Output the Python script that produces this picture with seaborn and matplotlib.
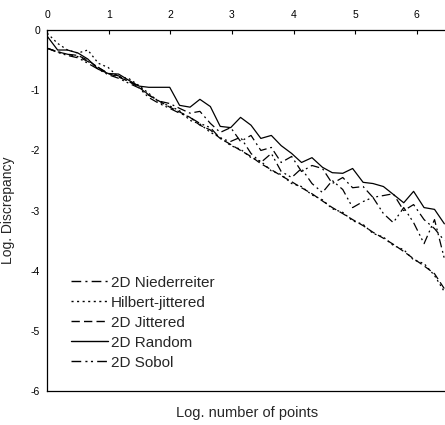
import numpy as np
import pandas as pd
import matplotlib
matplotlib.use("Agg")
import matplotlib.pyplot as plt
import seaborn as sns

# log10 of the number of points
log_n = [0.00, 0.17, 0.33, 0.50, 0.66, 0.83, 0.99, 1.16, 1.32, 1.49,
         1.65, 1.82, 1.99, 2.15, 2.32, 2.48, 2.65, 2.81, 2.98, 3.14,
         3.31, 3.47, 3.64, 3.80, 3.97, 4.13, 4.30, 4.47, 4.63, 4.80,
         4.96, 5.13, 5.29, 5.46, 5.62, 5.79, 5.95, 6.12, 6.29, 6.45]

niederreiter = [-0.30, -0.36, -0.40, -0.44, -0.52, -0.62, -0.72, -0.76, -0.85, -0.93,
                -1.08, -1.18, -1.22, -1.30, -1.38, -1.35, -1.55, -1.70, -1.62, -1.85,
                -1.75, -2.00, -1.95, -2.20, -2.10, -2.35, -2.25, -2.30, -2.55, -2.45,
                -2.62, -2.60, -2.78, -2.75, -2.72, -3.00, -2.90, -3.15, -3.30, -3.50]

hilbert = [-0.05, -0.22, -0.33, -0.38, -0.33, -0.55, -0.62, -0.78, -0.80, -0.92,
           -1.05, -1.20, -1.26, -1.34, -1.50, -1.56, -1.70, -1.78, -1.92, -1.98,
           -2.12, -2.18, -2.34, -2.40, -2.55, -2.60, -2.74, -2.82, -2.97, -3.03,
           -3.17, -3.23, -3.38, -3.44, -3.58, -3.65, -3.82, -3.88, -4.08, -4.35]

jittered = [-0.30, -0.36, -0.40, -0.42, -0.50, -0.62, -0.72, -0.78, -0.85, -0.95,
            -1.08, -1.18, -1.28, -1.36, -1.45, -1.58, -1.66, -1.80, -1.90, -2.00,
            -2.10, -2.22, -2.32, -2.42, -2.52, -2.62, -2.72, -2.84, -2.95, -3.05,
            -3.15, -3.25, -3.36, -3.46, -3.56, -3.68, -3.80, -3.92, -4.05, -4.30]

random_pts = [-0.10, -0.33, -0.33, -0.38, -0.48, -0.65, -0.72, -0.73, -0.83, -0.93,
              -0.95, -0.95, -0.95, -1.25, -1.28, -1.15, -1.27, -1.60, -1.62, -1.45,
              -1.58, -1.80, -1.75, -1.92, -2.05, -2.20, -2.12, -2.28, -2.37, -2.38,
              -2.30, -2.53, -2.55, -2.60, -2.73, -2.87, -2.68, -2.95, -2.98, -3.22]

sobol = [-0.30, -0.37, -0.42, -0.46, -0.55, -0.65, -0.74, -0.80, -0.88, -0.96,
         -1.12, -1.22, -1.30, -1.38, -1.45, -1.55, -1.62, -1.80, -1.85, -1.78,
         -2.05, -2.20, -2.05, -2.35, -2.45, -2.30, -2.55, -2.70, -2.50, -2.65,
         -2.95, -2.85, -2.78, -3.05, -3.20, -2.95, -3.20, -3.55, -3.15, -3.80]

names = ["2D Niederreiter", "Hilbert-jittered", "2D Jittered", "2D Random", "2D Sobol"]
series = [niederreiter, hilbert, jittered, random_pts, sobol]

df = pd.concat([pd.DataFrame({"x": log_n, "y": s, "method": n}) for n, s in zip(names, series)])

sns.set_style("white")
plt.rcParams["font.family"] = ["Liberation Sans", "DejaVu Sans"]
plt.rcParams["axes.unicode_minus"] = False

fig = plt.figure(figsize=(4.45, 4.25), dpi=100)
ax = fig.add_axes([0.106, 0.08, 0.894, 0.849])

dash_map = {
    "2D Niederreiter": (7, 3, 1.5, 3),
    "Hilbert-jittered": (1.5, 2.5),
    "2D Jittered": (6, 3),
    "2D Random": "",
    "2D Sobol": (7, 3, 1.5, 2.5, 1.5, 3),
}
sns.lineplot(data=df, x="x", y="y", style="method", style_order=names,
             dashes=dash_map, color="black", linewidth=0.9, ax=ax, sort=False)

ax.set_xlim(0, 6.46)
ax.set_ylim(-6, 0)
ax.set_xticks(range(0, 7))
ax.set_yticks(range(-6, 1))
ax.xaxis.tick_top()
ax.tick_params(axis="x", direction="in", length=3, width=0.8, labelsize=7.5, pad=7, colors="black")
ax.tick_params(axis="y", direction="out", length=3, width=0.8, labelsize=7.5, pad=2, colors="black")

for side in ["left", "top", "bottom"]:
    ax.spines[side].set_visible(True)
    ax.spines[side].set_color("black")
    ax.spines[side].set_linewidth(0.9)
ax.spines["right"].set_visible(False)

ax.set_xlabel("")
ax.set_ylabel("Log. Discrepancy", fontsize=10)
ax.yaxis.set_label_coords(-0.08, 0.5)
fig.text(0.556, 0.028, "Log. number of points", ha="center", va="center", fontsize=10.5)

handles, labels = ax.get_legend_handles_labels()
for h in handles:
    h.set_linewidth(1.0)
ax.legend(handles, labels, loc="upper left", bbox_to_anchor=(0.16, 0.351),
          bbox_transform=fig.transFigure, frameon=False, borderpad=0, borderaxespad=0,
          fontsize=11, handlelength=2.4, handletextpad=0.2, labelspacing=0.39)

fig.savefig("out.png", dpi=100)
